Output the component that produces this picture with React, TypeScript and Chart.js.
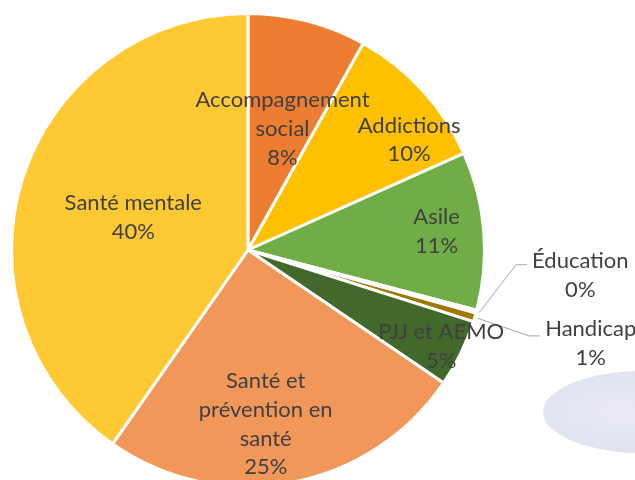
import React, { useEffect, useRef } from "react";
import { Chart, registerables } from "chart.js";

Chart.register(...registerables);

const categories = [
  "Accompagnement social",
  "Addictions",
  "Asile",
  "Éducation",
  "Handicap",
  "PJJ et AEMO",
  "Santé et prévention en santé",
  "Santé mentale",
];
const values = [8.1, 10.2, 10.8, 0.2, 0.6, 4.6, 25.2, 40.3];
const colors = ["#ED7D31", "#FFC000", "#70AD47", "#264478", "#A07700", "#43682B", "#F1975A", "#FFC933"];

// label layout: radial factor + pixel nudge, optional leader line y-offset
const labelLayout = [
  { f: 0.53, dx: 3, dy: 0 },
  { f: 0.815, dx: 19, dy: 20 },
  { f: 0.8, dx: 0, dy: -3 },
  { f: 1.0, dx: 104, dy: -36, leader: -11 },
  { f: 1.0, dx: 116, dy: 26, leader: -7.5 },
  { f: 0.913, dx: -1, dy: 2 },
  { f: 0.74, dx: -14, dy: 2 },
  { f: 0.504, dx: -1, dy: 3 },
];

const FONT = "22px Lato";
const LINE_H = 28.8;
const WRAP_W = 155;

function wrap(ctx: CanvasRenderingContext2D, text: string): string[] {
  const words = text.split(" ");
  const lines: string[] = [];
  let cur = "";
  for (const w of words) {
    const t = cur ? cur + " " + w : w;
    if (cur && ctx.measureText(t).width > WRAP_W) {
      lines.push(cur);
      cur = w;
    } else cur = t;
  }
  if (cur) lines.push(cur);
  return lines;
}

const labelPlugin = {
  id: "sliceLabels",
  afterDatasetsDraw(chart: any) {
    const ctx: CanvasRenderingContext2D = chart.ctx;
    const meta = chart.getDatasetMeta(0);
    ctx.save();
    ctx.font = FONT;
    ctx.textAlign = "center";
    ctx.textBaseline = "middle";
    meta.data.forEach((arc: any, i: number) => {
      const p = arc.getProps(["x", "y", "startAngle", "endAngle", "outerRadius"], true);
      const mid = (p.startAngle + p.endAngle) / 2;
      const R = p.outerRadius;
      const L = labelLayout[i];
      const px = p.x + Math.cos(mid) * R * L.f + L.dx;
      const py = p.y + Math.sin(mid) * R * L.f + L.dy;
      const lines = wrap(ctx, categories[i]).concat([Math.round(values[i]) + "%"]);
      const h = (lines.length - 1) * LINE_H;
      if (L.leader !== undefined) {
        const maxW = Math.max(...lines.map((l) => ctx.measureText(l).width));
        const ex = px - maxW / 2 - 5;
        const ey = py + L.leader;
        ctx.strokeStyle = "#A6A6A6";
        ctx.lineWidth = 1;
        ctx.beginPath();
        ctx.moveTo(p.x + Math.cos(mid) * (R + 3), p.y + Math.sin(mid) * (R + 3));
        ctx.lineTo(ex - 11, ey);
        ctx.lineTo(ex, ey);
        ctx.stroke();
      }
      ctx.fillStyle = "#404040";
      lines.forEach((l, k) => {
        ctx.fillText(l, px, py - h / 2 + k * LINE_H);
      });
    });
    ctx.restore();
  },
};

export default function App() {
  const ref = useRef<HTMLCanvasElement>(null);
  useEffect(() => {
    if (!ref.current) return;
    const chart = new Chart(ref.current, {
      type: "pie",
      data: {
        labels: categories,
        datasets: [
          {
            data: values,
            backgroundColor: colors,
            borderColor: "#FFFFFF",
            borderWidth: 3,
          },
        ],
      },
      options: {
        responsive: false,
        animation: false,
        layout: { padding: { left: 10, top: 12, right: 149, bottom: 2 } },
        plugins: {
          legend: { display: false },
          tooltip: { enabled: false },
        },
      },
      plugins: [labelPlugin],
    });
    return () => chart.destroy();
  }, []);
  return (
    <div style={{ position: "absolute", left: 0, top: 0, width: 635, height: 480, overflow: "hidden", background: "#fff" }}>
      <div
        style={{
          position: "absolute",
          left: 543,
          top: 371,
          width: 200,
          height: 82,
          borderRadius: "50%",
          background: "radial-gradient(ellipse at 40% 50%, #E9EAF5 0%, #E1E2F1 70%, #E9EAF5 100%)",
        }}
      />
      <canvas ref={ref} width={635} height={490} style={{ position: "absolute", left: 0, top: 0 }} />
    </div>
  );
}
